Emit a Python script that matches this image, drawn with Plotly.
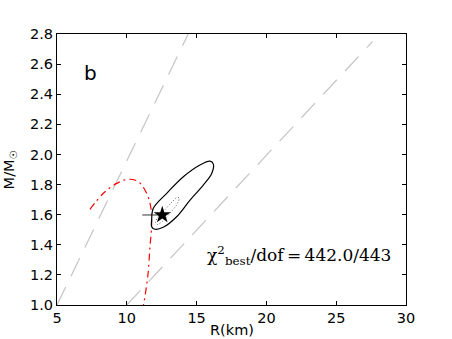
import plotly.graph_objects as go

# gray dashed reference lines
line1_r = [5.0, 14.4]
line1_m = [1.0, 2.8]
line2_r = [10.0, 27.6]
line2_m = [1.0, 2.75]

# red dash-dot M-R curve
eos_r = [7.36, 8.32, 9.28, 10.11, 10.83, 11.42, 11.71, 11.78, 11.66, 11.5, 11.18]
eos_m = [1.635, 1.742, 1.808, 1.835, 1.819, 1.742, 1.653, 1.542, 1.387, 1.188, 0.99]

# outer (solid) contour
c1_r = [11.78, 11.90, 12.86, 14.05, 15.24, 15.96, 16.2, 16.08, 15.48, 14.53, 13.57, 12.61, 12.02, 11.78, 11.78]
c1_m = [1.564, 1.642, 1.742, 1.852, 1.930, 1.956, 1.936, 1.874, 1.797, 1.697, 1.586, 1.516, 1.503, 1.52, 1.564]

# inner (dotted) contour
c2_r = [12.05, 12.3, 12.8, 13.3, 13.6, 13.75, 13.6, 13.1, 12.6, 12.2, 12.05]
c2_m = [1.55, 1.59, 1.64, 1.69, 1.715, 1.71, 1.67, 1.61, 1.56, 1.535, 1.55]

best_r = [12.54]
best_m = [1.598]
err_r = [11.11, 12.54]
err_m = [1.598, 1.598]

fig = go.Figure()
for xr, ym in [(line1_r, line1_m), (line2_r, line2_m)]:
    fig.add_trace(go.Scatter(x=xr, y=ym, mode="lines",
                             line=dict(color="#c4c4c4", width=1.2, dash="20px,12px")))
fig.add_trace(go.Scatter(x=eos_r, y=eos_m, mode="lines", line_shape="spline",
                         line=dict(color="red", width=1.2, dash="7px,4px,2px,4px")))
fig.add_trace(go.Scatter(x=c1_r, y=c1_m, mode="lines", line_shape="spline",
                         line=dict(color="black", width=1.2)))
fig.add_trace(go.Scatter(x=c2_r, y=c2_m, mode="lines", line_shape="spline",
                         line=dict(color="#666666", width=1, dash="1px,2px")))
fig.add_trace(go.Scatter(x=err_r, y=err_m, mode="lines",
                         line=dict(color="#333333", width=1)))
fig.add_trace(go.Scatter(x=best_r, y=best_m, mode="markers",
                         marker=dict(symbol="star", size=13, color="black")))

axis_common = dict(showline=True, linecolor="black", linewidth=1, mirror="ticks",
                   ticks="inside", ticklen=4, tickcolor="black", showgrid=False,
                   zeroline=False, tickfont=dict(family="DejaVu Sans", size=14.5, color="black"))

fig.update_layout(
    width=452, height=339,
    margin=dict(l=57, r=46, t=34, b=34),
    paper_bgcolor="white", plot_bgcolor="white",
    showlegend=False,
    xaxis=dict(range=[5, 30], tickvals=[5, 10, 15, 20, 25, 30], **axis_common),
    yaxis=dict(range=[1.0, 2.8], tickvals=[1.0, 1.2, 1.4, 1.6, 1.8, 2.0, 2.2, 2.4, 2.6, 2.8],
               tickformat=".1f", **axis_common),
    annotations=[
        dict(x=7.41, y=2.54, xref="x", yref="y", text="b", showarrow=False,
             font=dict(family="DejaVu Sans", size=20, color="black")),
        dict(x=22.34, y=1.33, xref="x", yref="y", showarrow=False,
             text="χ<sup>2</sup><sub>best</sub>/dof\u2009=\u2009442.0/443",
             font=dict(family="DejaVu Serif", size=17, color="black")),
        dict(x=0.5, y=-0.092, xref="paper", yref="paper", text="R(km)", showarrow=False,
             yanchor="middle", font=dict(family="DejaVu Sans", size=14.5, color="black")),
        dict(x=-0.135, y=0.5, xref="paper", yref="paper", text="M/M<sub>☉</sub>",
             showarrow=False, textangle=-90, xanchor="center", yanchor="middle",
             font=dict(family="DejaVu Sans", size=14.5, color="black")),
    ],
)

# drop the browser's default 8px body margin so the figure fills the window
fig.write_html("out.html", config={"displayModeBar": False},
               post_script="document.body.style.margin='0';")
